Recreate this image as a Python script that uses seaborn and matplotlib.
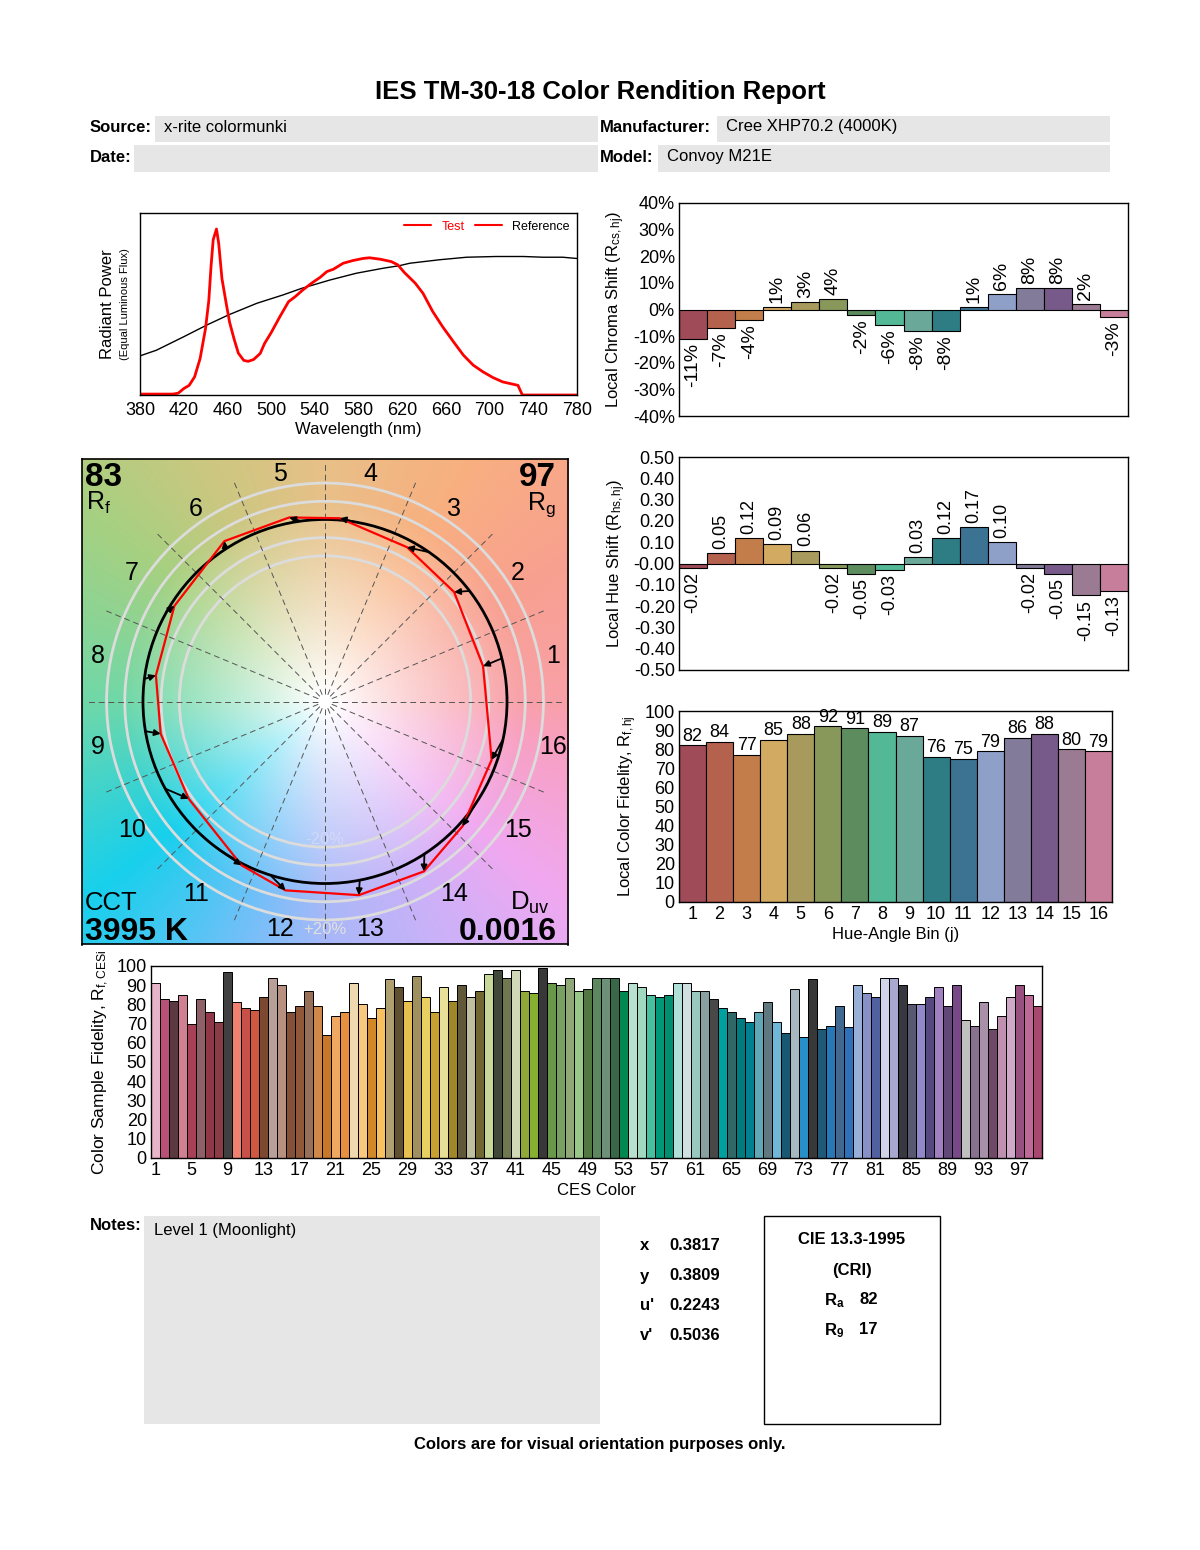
import numpy as np
import matplotlib
matplotlib.use("Agg")
import matplotlib.pyplot as plt
import seaborn as sns
from matplotlib.patches import Rectangle, Circle
from matplotlib.lines import Line2D

sns.set_theme(style="white")
plt.rcParams["font.family"] = ["Liberation Sans", "DejaVu Sans"]
plt.rcParams["axes.unicode_minus"] = False
plt.rcParams["mathtext.default"] = "regular"
plt.rcParams.update({"text.color": "black", "axes.labelcolor": "black",
                     "xtick.color": "black", "ytick.color": "black"})

# ---------------- data ----------------
wl_test = [380, 410, 415, 420, 425, 430, 435, 440, 443, 445, 447, 450, 452, 455, 459, 462,
           466, 470, 475, 479, 484, 490, 494, 500, 508, 516, 522, 529, 537, 545, 551, 557,
           566, 575, 584, 590, 600, 610, 616, 622, 632, 639, 648, 657, 667, 676, 685, 694,
           703, 712, 726, 728, 730, 780]
spd_test = [0.005, 0.005, 0.01, 0.035, 0.053, 0.10, 0.20, 0.366, 0.52, 0.706, 0.853, 0.912,
            0.835, 0.64, 0.50, 0.40, 0.31, 0.23, 0.19, 0.185, 0.195, 0.228, 0.283, 0.342,
            0.43, 0.513, 0.54, 0.577, 0.614, 0.647, 0.678, 0.691, 0.724, 0.739, 0.75, 0.754,
            0.746, 0.733, 0.715, 0.673, 0.614, 0.559, 0.458, 0.375, 0.292, 0.219, 0.164,
            0.127, 0.096, 0.072, 0.053, 0.026, 0.0, 0.0]
wl_ref = [380, 395, 420, 441, 461, 487, 511, 528, 554, 578, 603, 617, 627, 654, 679, 706,
          731, 749, 767, 780]
spd_ref = [0.215, 0.246, 0.32, 0.384, 0.44, 0.504, 0.55, 0.586, 0.632, 0.669, 0.697, 0.71,
           0.724, 0.743, 0.757, 0.761, 0.761, 0.757, 0.757, 0.75]

bins = [str(i) for i in range(1, 17)]
bin_colors = ["#a04c58", "#b4624e", "#c27d4a", "#d2aa62", "#a89a5c", "#87985a", "#5d8c5e",
              "#52b896", "#6aa89a", "#2e7d85", "#3d7392", "#8e9fc8", "#827b9a", "#775a89",
              "#9b7b93", "#c67e9a"]
chroma_shift = [-11, -7, -4, 1, 3, 4, -2, -6, -8, -8, 1, 6, 8, 8, 2, -3]
hue_shift = [-0.02, 0.05, 0.12, 0.09, 0.06, -0.02, -0.05, -0.03, 0.03, 0.12, 0.17, 0.10,
             -0.02, -0.05, -0.15, -0.13]
local_rf = [82, 84, 77, 85, 88, 92, 91, 89, 87, 76, 75, 79, 86, 88, 80, 79]

# vector graphic: average hue angles (deg) of reference and test per bin
ref_hue = [13.7, 37.4, 55.1, 80.2, 97.6, 123.2, 150.5, 172.9, 189.4, 208.6, 233.3, 252.5,
           281.0, 303.1, 326.4, 348.1]
test_hue = [12.6, 40.3, 62.0, 85.4, 101.0, 122.1, 147.6, 171.2, 191.1, 215.5, 243.0, 258.2,
            279.9, 300.2, 317.8, 340.7]

ces_rf = [91, 83, 82, 85, 70, 83, 76, 71, 97, 81, 78, 77, 84, 94, 90, 76, 79, 87, 79, 64,
          74, 76, 91, 80, 73, 78, 93, 89, 82, 95, 84, 76, 89, 82, 90, 84, 87, 96, 98, 94,
          98, 87, 86, 99, 91, 90, 94, 87, 88, 94, 94, 94, 87, 91, 89, 85, 84, 85, 91, 91,
          87, 87, 83, 78, 76, 73, 71, 76, 81, 71, 65, 88, 63, 93, 67, 69, 79, 68, 90, 86,
          84, 94, 94, 90, 80, 80, 84, 89, 79, 90, 72, 69, 81, 67, 74, 84, 90, 85, 79]
ces_colors = ["#e8b4c8", "#b85078", "#5a3a40", "#d08090", "#a84058", "#906068", "#903848",
              "#8c3c44", "#404040", "#f08070", "#c85048", "#d05840", "#7c4830", "#b8a098",
              "#b89080", "#845038", "#905838", "#987058", "#d08848", "#c87828", "#f0a860",
              "#e89040", "#f0d8b0", "#f8c880", "#d08828", "#f8c060", "#b0a070", "#605030",
              "#e8c050", "#a09060", "#e8d060", "#c8a030", "#e8e098", "#a08828", "#605838",
              "#c0c0a0", "#706830", "#c8d898", "#404838", "#707850", "#d0d8b8", "#90a838",
              "#88b030", "#383838", "#689848", "#78a060", "#90a878", "#98c888", "#507840",
              "#5c8860", "#6c9078", "#386848", "#008850", "#b8e0d0", "#a0d8c0", "#48c0a0",
              "#009878", "#009070", "#b0e0d8", "#d0e0e0", "#98c8c0", "#88a0a0", "#484848",
              "#00a0a0", "#306868", "#007c80", "#008090", "#60a8b8", "#607880", "#70b8d8",
              "#185870", "#a8b8c0", "#2890c8", "#383838", "#205878", "#2878b8", "#406890",
              "#3070b8", "#98b0d8", "#8890c8", "#5060a0", "#d0d4e8", "#a8a8d0", "#383840",
              "#585870", "#9088c8", "#584880", "#a080c0", "#604878", "#784888", "#c0c0c0",
              "#887090", "#a890a8", "#704868", "#c090b0", "#d0a8c8", "#985080", "#c06898",
              "#a84870"]
ces_labels = [str(i) for i in range(1, len(ces_rf) + 1)]

Rf, Rg, CCT, Duv = 83, 97, 3995, "0.0016"
chrom = [("x", "0.3817"), ("y", "0.3809"), ("u'", "0.2243"), ("v'", "0.5036")]
Ra, R9 = 82, 17

# ---------------- figure ----------------
W, H = 1200, 1550
fig = plt.figure(figsize=(12, 15.5), dpi=100)
fig.patch.set_facecolor("white")
TICK = 13


def px_axes(x0, y0, x1, y1):
    return fig.add_axes([x0 / W, 1 - y1 / H, (x1 - x0) / W, (y1 - y0) / H])


def bar_axes(ax, labels, vals, colors):
    sns.barplot(x=labels, y=vals, hue=labels, order=labels, hue_order=labels,
                palette=dict(zip(labels, colors)), width=1, saturation=1, dodge=False,
                edgecolor="black", linewidth=0.8, legend=False, ax=ax)
    ax.set_xlim(-0.5, len(labels) - 0.5)
    for s in ax.spines.values():
        s.set_color("black")
        s.set_linewidth(1)
        s.set_visible(True)
    ax.tick_params(length=0, labelsize=TICK, colors="black", pad=3)


# overlay for header / footer
bg = fig.add_axes([0, 0, 1, 1])
bg.set_xlim(0, W)
bg.set_ylim(H, 0)
bg.axis("off")
bg.set_zorder(-10)
grey = "#e6e6e6"
bg.text(600, 92, "IES TM-30-18 Color Rendition Report", ha="center", va="center",
        fontsize=18.5, fontweight="bold")
for (x0, y0, x1, y1) in [(155, 116, 598, 142), (717, 116, 1110, 142),
                         (134, 145, 598, 172), (658, 145, 1110, 172)]:
    bg.add_patch(Rectangle((x0, y0), x1 - x0, y1 - y0, facecolor=grey, edgecolor="none"))
bg.text(90, 127, "Source:", fontsize=12, fontweight="bold", va="center")
bg.text(164, 127, "x-rite colormunki", fontsize=12, va="center")
bg.text(600, 127, "Manufacturer:", fontsize=12, fontweight="bold", va="center")
bg.text(726, 127, "Cree XHP70.2 (4000K)", fontsize=12, va="center")
bg.text(90, 157, "Date:", fontsize=12, fontweight="bold", va="center")
bg.text(600, 157, "Model:", fontsize=12, fontweight="bold", va="center")
bg.text(667, 157, "Convoy M21E", fontsize=12, va="center")

bg.add_patch(Rectangle((144, 1216), 456, 208, facecolor=grey, edgecolor="none"))
bg.text(90, 1226, "Notes:", fontsize=12, fontweight="bold", va="center")
bg.text(154, 1231, "Level 1 (Moonlight)", fontsize=12, va="center")
for k, (lab, val) in enumerate(chrom):
    bg.text(640, 1246 + 30 * k, lab, fontsize=12, fontweight="bold", va="center")
    bg.text(669, 1246 + 30 * k, val, fontsize=12, fontweight="bold", va="center")
bg.add_patch(Rectangle((764, 1216), 176, 208, facecolor="none", edgecolor="black", lw=1))
bg.text(852, 1240, "CIE 13.3-1995", fontsize=12, fontweight="bold", ha="center", va="center")
bg.text(852, 1270, "(CRI)", fontsize=12, fontweight="bold", ha="center", va="center")
bg.text(824, 1301, "$R_a$", fontsize=12, fontweight="bold", va="center")
bg.text(859, 1300, str(Ra), fontsize=12, fontweight="bold", va="center")
bg.text(824, 1331, "$R_9$", fontsize=12, fontweight="bold", va="center")
bg.text(859, 1330, str(R9), fontsize=12, fontweight="bold", va="center")
bg.text(600, 1444, "Colors are for visual orientation purposes only.", fontsize=12,
        fontweight="bold", ha="center", va="center")

# ---------------- spectrum ----------------
ax = px_axes(140, 213, 577, 395)
sns.lineplot(x=wl_ref, y=spd_ref, color="black", lw=1, ax=ax)
sns.lineplot(x=wl_test, y=spd_test, color="#ff0000", lw=2, ax=ax)
ax.set_xlim(380, 780)
ax.set_ylim(0, 1)
ax.set_xticks(range(380, 781, 40))
ax.set_yticks([0, 1])
ax.set_yticklabels([])
ax.tick_params(axis="x", length=0, labelsize=TICK, pad=5)
ax.tick_params(axis="y", length=3, direction="out")
for s in ax.spines.values():
    s.set_color("black")
    s.set_linewidth(1)
ax.set_xlabel("Wavelength (nm)", fontsize=12, labelpad=2)
ax.text(-0.075, 0.5, "Radiant Power", rotation=90, transform=ax.transAxes,
        ha="center", va="center", fontsize=12)
ax.text(-0.035, 0.5, "(Equal Luminous Flux)", rotation=90, transform=ax.transAxes,
        ha="center", va="center", fontsize=8)
handles = [Line2D([], [], color="#ff0000", lw=1.5), Line2D([], [], color="#ff0000", lw=1.5)]
leg = ax.legend(handles, ["Test", "Reference"], loc="upper right", ncol=2, frameon=False,
                fontsize=9, handlelength=2.2, columnspacing=0.8, borderaxespad=0.2)
leg.get_texts()[0].set_color("#ff0000")

# ---------------- local chroma shift ----------------
ax = px_axes(679, 203, 1128, 416)
bar_axes(ax, bins, chroma_shift, bin_colors)
ax.set_ylim(-40, 40)
ax.set_yticks(range(-40, 41, 10))
ax.set_yticklabels([f"{v}%" for v in range(-40, 41, 10)])
ax.set_xticklabels([])
ax.set_ylabel("Local Chroma Shift ($R_{cs,hj}$)", fontsize=12, labelpad=4)
for i, v in enumerate(chroma_shift):
    if v >= 0:
        ax.text(i, v + 1.5, f"{v}%", rotation=90, ha="center", va="bottom", fontsize=14)
    else:
        ax.text(i, v - 1.5, f"{v}%", rotation=90, ha="center", va="top", fontsize=14)

# ---------------- local hue shift ----------------
ax = px_axes(679, 457, 1128, 670)
bar_axes(ax, bins, hue_shift, bin_colors)
ax.set_ylim(-0.5, 0.5)
ticks = np.round(np.arange(-0.5, 0.51, 0.1), 2)
ax.set_yticks(ticks)
ax.set_yticklabels([f"{t:.2f}" for t in ticks])
ax.set_xticklabels([])
ax.set_ylabel("Local Hue Shift ($R_{hs,hj}$)", fontsize=12, labelpad=4)
for i, v in enumerate(hue_shift):
    if v >= 0:
        ax.text(i, v + 0.02, f"{v:.2f}", rotation=90, ha="center", va="bottom", fontsize=13)
    else:
        ax.text(i, v - 0.02, f"{v:.2f}", rotation=90, ha="center", va="top", fontsize=13)

# ---------------- local color fidelity ----------------
ax = px_axes(679, 711, 1112, 902)
bar_axes(ax, bins, local_rf, bin_colors)
ax.set_ylim(0, 100)
ax.set_yticks(range(0, 101, 10))
ax.set_ylabel("Local Color Fidelity, $R_{f,hj}$", fontsize=12, labelpad=4)
ax.set_xlabel("Hue-Angle Bin (j)", fontsize=12, labelpad=3)
for i, v in enumerate(local_rf):
    ax.text(i, v + 0.3, str(v), ha="center", va="bottom", fontsize=13)

# ---------------- CES fidelity ----------------
ax = px_axes(151, 966, 1042, 1158)
bar_axes(ax, ces_labels, ces_rf, ces_colors)
ax.set_ylim(0, 100)
ax.set_yticks(range(0, 101, 10))
ax.set_xticks(range(0, len(ces_labels), 4))
ax.set_xticklabels(ces_labels[::4])
ax.set_ylabel("Color Sample Fidelity, $R_{f,CESi}$", fontsize=12.5, labelpad=4)
ax.set_xlabel("CES Color", fontsize=12, labelpad=3)
for p in ax.patches:
    p.set_linewidth(0.7)

# ---------------- color vector graphic ----------------
L = 1.335
ax = px_axes(82, 458, 568, 945)
n = 500
g = np.linspace(-L, L, n)
X, Y = np.meshgrid(g, g)
R = np.hypot(X, Y)
A = np.degrees(np.arctan2(Y, X)) % 360
anc_deg = [0, 30, 60, 90, 120, 140, 180, 220, 250, 270, 300, 320, 350, 360]
anc_col = ["#f8a0a8", "#f8a090", "#f8b080", "#e8c088", "#c8c880", "#a8d080", "#70d8a8",
           "#18d0ec", "#70c0f8", "#a8b8f8", "#d0b0f8", "#f0a8f0", "#f8a0c0", "#f8a0a8"]
anc_rgb = np.array([matplotlib.colors.to_rgb(c) for c in anc_col])
img = np.zeros((n, n, 3))
s = np.clip((R - 0.05) / 1.05, 0, 1) ** 0.85
for c in range(3):
    ch = np.interp(A, anc_deg, anc_rgb[:, c])
    img[:, :, c] = 1 - s * (1 - ch)
ax.imshow(img, extent=[-L, L, -L, L], origin="lower", zorder=0)
for rr in [0.8, 0.9, 1.1, 1.2]:
    ax.add_patch(Circle((0, 0), rr, fill=False, ec="#dcdcdc", lw=2, zorder=1))
for k in range(16):
    t = np.radians(22.5 * k)
    ax.plot([0.04 * np.cos(t), 1.32 * np.cos(t)], [0.04 * np.sin(t), 1.32 * np.sin(t)],
            ls=(0, (6, 4)), color="#555555", lw=0.7, zorder=2)
ax.add_patch(Circle((0, 0), 1.0, fill=False, ec="black", lw=2, zorder=3))
tr = np.array([1 + v / 100 for v in chroma_shift])
th = np.radians(test_hue)
px_, py_ = tr * np.cos(th), tr * np.sin(th)
ax.plot(np.append(px_, px_[0]), np.append(py_, py_[0]), color="#ff0000", lw=1.6, zorder=4)
rh = np.radians(ref_hue)
for j in range(16):
    ax.annotate("", xy=(px_[j], py_[j]), xytext=(np.cos(rh[j]), np.sin(rh[j])),
                arrowprops=dict(arrowstyle="-|>", color="black", lw=1.3,
                                mutation_scale=9, shrinkA=0, shrinkB=0), zorder=5)
for j in range(16):
    t = np.radians(22.5 * (j + 0.5))
    ax.text(1.275 * np.cos(t), 1.275 * np.sin(t), bins[j], ha="center", va="center",
            fontsize=18, zorder=6)
ax.text(0, -0.76, "-20%", ha="center", va="center", fontsize=12, color="#f0f0f0",
        alpha=0.35, zorder=6)
ax.text(0, -1.25, "+20%", ha="center", va="center", fontsize=12, color="#e0e0e0",
        zorder=6)
ax.set_xlim(-L, L)
ax.set_ylim(-L, L)
ax.set_xticks([])
ax.set_yticks([])
for sp in ax.spines.values():
    sp.set_color("black")
    sp.set_linewidth(1.2)
tf = ax.transAxes
ax.text(0.006, 0.993, str(Rf), transform=tf, ha="left", va="top", fontsize=24,
        fontweight="bold", zorder=7)
ax.text(0.008, 0.935, "$R_f$", transform=tf, ha="left", va="top", fontsize=18, zorder=7)
ax.text(0.975, 0.993, str(Rg), transform=tf, ha="right", va="top", fontsize=24,
        fontweight="bold", zorder=7)
ax.text(0.975, 0.935, "$R_g$", transform=tf, ha="right", va="top", fontsize=18, zorder=7)
ax.text(0.006, 0.072, "CCT", transform=tf, ha="left", va="baseline", fontsize=18.5, zorder=7)
ax.text(0.006, 0.01, f"{CCT} K", transform=tf, ha="left", va="baseline", fontsize=23,
        fontweight="bold", zorder=7)
ax.text(0.962, 0.072, "$D_{uv}$", transform=tf, ha="right", va="baseline", fontsize=18.5,
        zorder=7)
ax.text(0.977, 0.01, Duv, transform=tf, ha="right", va="baseline", fontsize=23,
        fontweight="bold", zorder=7)

fig.savefig("out.png", dpi=100, facecolor="white")
